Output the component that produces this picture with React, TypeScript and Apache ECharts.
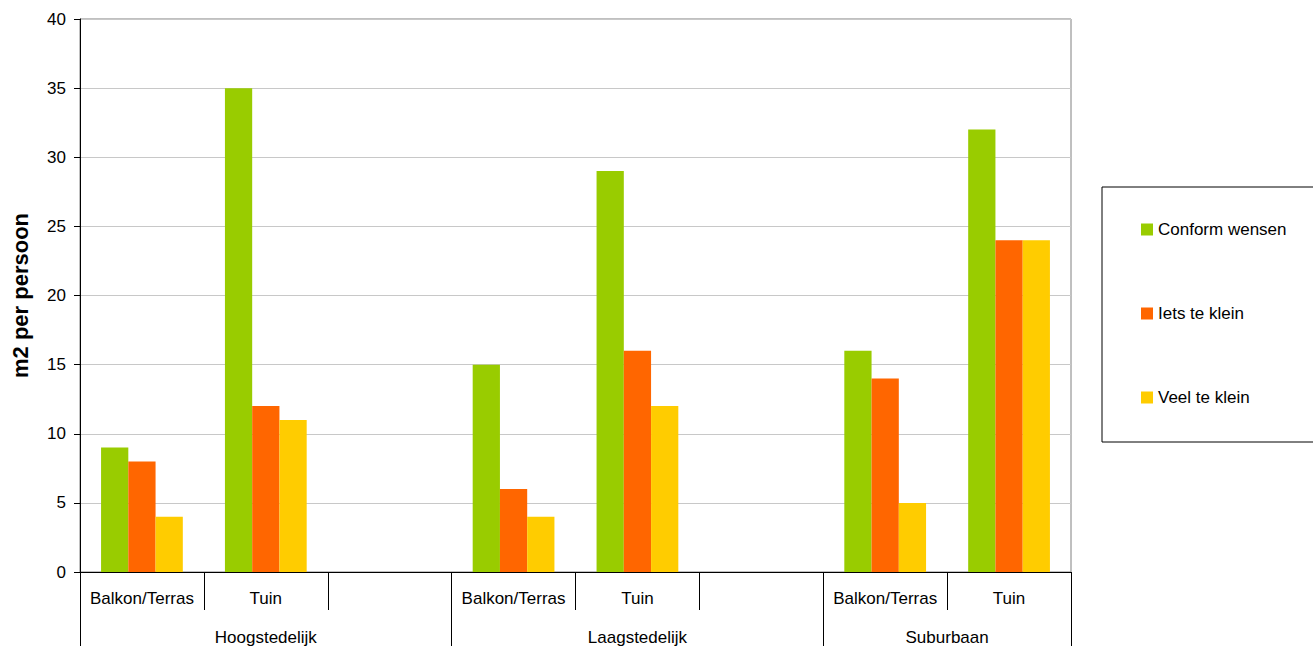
import React, { useEffect, useRef } from "react";
import * as echarts from "echarts";

const subCategories = ["Balkon/Terras", "Tuin", "", "Balkon/Terras", "Tuin", "", "Balkon/Terras", "Tuin"];
const groups = ["Hoogstedelijk", "Laagstedelijk", "Suburbaan"];
const groupSizes = [3, 3, 2];
const seriesNames = ["Conform wensen", "Iets te klein", "Veel te klein"];
const conform = [9, 35, null, 15, 29, null, 16, 32];
const ietsKlein = [8, 12, null, 6, 16, null, 14, 24];
const veelKlein = [4, 11, null, 4, 12, null, 5, 24];
const colors = ["#99CC00", "#FF6600", "#FFCC00"];
const yTicks = { min: 0, max: 40, interval: 5 };

const FONT = "Liberation Sans, Arial, sans-serif";

export default function App() {
  const ref = useRef<HTMLDivElement>(null);
  useEffect(() => {
    if (!ref.current) return;
    const chart = echarts.init(ref.current, null, { renderer: "svg" });
    const bounds: number[] = [0];
    groupSizes.forEach((s) => bounds.push(bounds[bounds.length - 1] + s));
    const centers = groupSizes.map((s, i) => bounds[i] + s / 2);
    const total = bounds[bounds.length - 1];
    chart.setOption({
      animation: false,
      textStyle: { fontFamily: FONT },
      grid: {
        left: 80,
        right: 242,
        top: 19,
        bottom: 74,
        containLabel: false,
        outerBoundsMode: "none",
        show: true,
        borderColor: "#808080",
        borderWidth: 1,
        backgroundColor: "transparent",
      },
      legend: {
        orient: "vertical",
        left: 1136,
        top: 216,
        itemGap: 67,
        itemWidth: 12,
        itemHeight: 12,
        icon: "rect",
        textStyle: { fontSize: 17, color: "#000", fontFamily: FONT },
        data: seriesNames,
      },
      graphic: [
        {
          type: "rect",
          shape: { x: 1102, y: 187, width: 260, height: 255 },
          style: { fill: "none", stroke: "#000", lineWidth: 1 },
          z: -1,
        },
      ],
      xAxis: [
        {
          type: "category",
          data: subCategories,
          position: "bottom",
          axisLine: { show: true, lineStyle: { color: "#000", width: 1 } },
          axisTick: { show: true, length: 38, alignWithLabel: false, lineStyle: { color: "#000" } },
          axisLabel: { color: "#000", fontSize: 17, margin: 18, interval: 0, fontFamily: FONT },
          splitLine: { show: false },
        },
        {
          type: "value",
          min: 0,
          max: total,
          position: "bottom",
          axisLine: { show: false },
          splitLine: { show: false },
          axisTick: {
            show: true,
            length: 80,
            customValues: bounds,
            lineStyle: { color: "#000" },
          },
          axisLabel: {
            show: true,
            customValues: centers,
            margin: 57,
            color: "#000",
            fontSize: 17,
            fontFamily: FONT,
            formatter: (v: number) => {
              const i = centers.findIndex((c) => Math.abs(c - v) < 1e-6);
              return i >= 0 ? groups[i] : "";
            },
          },
        },
      ],
      yAxis: {
        type: "value",
        min: yTicks.min,
        max: yTicks.max,
        interval: yTicks.interval,
        name: "m2 per persoon",
        nameLocation: "middle",
        nameGap: 49,
        nameRotate: 90,
        nameTextStyle: { fontSize: 22, fontWeight: "bold", color: "#000", fontFamily: FONT },
        axisLine: { show: true, lineStyle: { color: "#000", width: 1 } },
        axisTick: { show: true, length: 6, lineStyle: { color: "#000" } },
        axisLabel: { color: "#000", fontSize: 17, margin: 14, fontFamily: FONT },
        splitLine: { show: true, lineStyle: { color: "#c8c8c8", width: 1 } },
      },
      series: [conform, ietsKlein, veelKlein].map((d, i) => ({
        name: seriesNames[i],
        type: "bar",
        xAxisIndex: 0,
        data: d,
        barGap: "0%",
        barCategoryGap: "34%",
        itemStyle: { color: colors[i] },
      })),
    });
    return () => chart.dispose();
  }, []);
  return (
    <div
      ref={ref}
      style={{ position: "absolute", left: 0, top: 0, width: 1313, height: 646, background: "#fff" }}
    />
  );
}
